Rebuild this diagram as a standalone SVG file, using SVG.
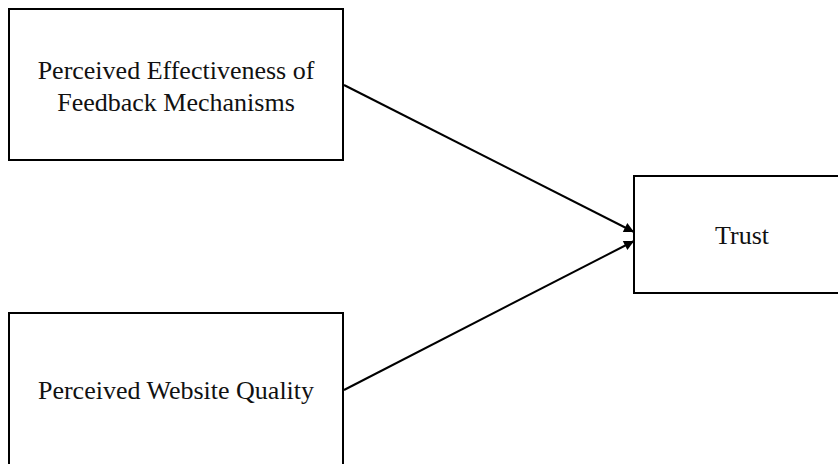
<svg xmlns="http://www.w3.org/2000/svg" width="838" height="464" viewBox="0 0 838 464">
  <defs>
    <marker id="arrow" viewBox="0 0 10 10" refX="10" refY="5" markerWidth="13" markerHeight="10" markerUnits="userSpaceOnUse" orient="auto">
      <path d="M0,0 L10,5 L0,10 Z" fill="#000"/>
    </marker>
    <style>
      .box { fill: #fff; stroke: #000; stroke-width: 2; }
      .label { font-family: "Liberation Serif", "Times New Roman", serif; font-size: 26px; fill: #111; text-anchor: middle; }
      .edge { stroke: #000; stroke-width: 2; fill: none; }
    </style>
  </defs>
  <rect width="838" height="464" fill="#fff"/>

  <g id="node-feedback">
    <rect class="box" x="9" y="9" width="334" height="151"/>
    <text class="label" x="176" y="79">Perceived Effectiveness of</text>
    <text class="label" x="176" y="111">Feedback Mechanisms</text>
  </g>

  <g id="node-quality">
    <rect class="box" x="9" y="313" width="334" height="160"/>
    <text class="label" x="176" y="399">Perceived Website Quality</text>
  </g>

  <g id="node-trust">
    <rect class="box" x="634" y="176" width="214" height="117"/>
    <text class="label" x="742" y="244">Trust</text>
  </g>

  <g id="connectors">
    <line class="edge" x1="344" y1="85" x2="634" y2="232" marker-end="url(#arrow)"/>
    <line class="edge" x1="344" y1="390" x2="634" y2="241" marker-end="url(#arrow)"/>
  </g>
</svg>
